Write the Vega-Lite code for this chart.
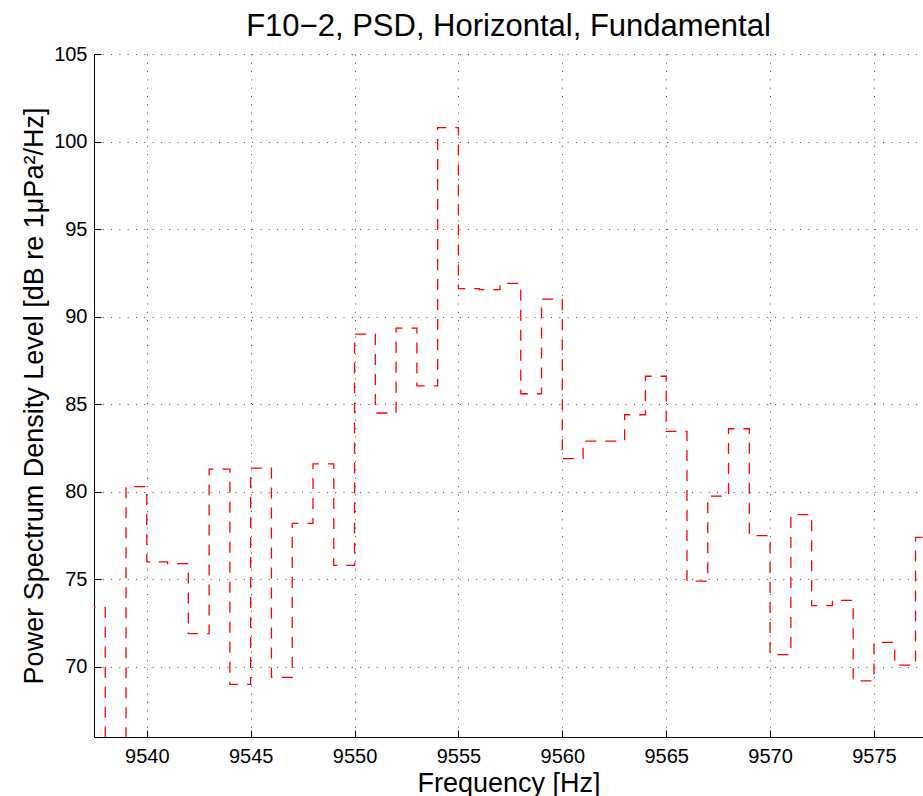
{
  "$schema": "https://vega.github.io/schema/vega-lite/v6.json",
  "width": 829,
  "height": 683,
  "autosize": {"type": "none"},
  "padding": {"left": 94, "top": 54, "right": 0, "bottom": 59},
  "background": "white",
  "config": {
    "font": "Liberation Sans",
    "view": {"stroke": null},
    "axis": {
      "domainColor": "#000",
      "domainWidth": 1,
      "tickColor": "#000",
      "tickSize": -7,
      "labelColor": "#000",
      "labelFont": "Liberation Sans",
      "labelFontSize": 20,
      "titleFont": "Liberation Sans",
      "titleFontSize": 27,
      "titleFontWeight": "normal",
      "titleColor": "#000",
      "grid": true,
      "gridColor": "#000",
      "gridOpacity": 0.7,
      "gridDash": [1, 7.3],
      "gridWidth": 1
    }
  },
  "title": {
    "text": "F10\u22122, PSD, Horizontal, Fundamental",
    "font": "Liberation Sans",
    "fontSize": 31,
    "fontWeight": "normal",
    "color": "#000",
    "offset": 1
  },
  "data": {
    "values": [
      {"f": 9537, "psd": 73.4},
      {"f": 9538, "psd": 60},
      {"f": 9539, "psd": 80.3},
      {"f": 9540, "psd": 76.0},
      {"f": 9541, "psd": 75.9},
      {"f": 9542, "psd": 71.9},
      {"f": 9543, "psd": 81.3},
      {"f": 9544, "psd": 69.0},
      {"f": 9545, "psd": 81.35},
      {"f": 9546, "psd": 69.4},
      {"f": 9547, "psd": 78.2},
      {"f": 9548, "psd": 81.6},
      {"f": 9549, "psd": 75.8},
      {"f": 9550, "psd": 89.0},
      {"f": 9551, "psd": 84.5},
      {"f": 9552, "psd": 89.35},
      {"f": 9553, "psd": 86.05},
      {"f": 9554, "psd": 100.8},
      {"f": 9555, "psd": 91.6},
      {"f": 9556, "psd": 91.55},
      {"f": 9557, "psd": 91.9},
      {"f": 9558, "psd": 85.6},
      {"f": 9559, "psd": 91.0},
      {"f": 9560, "psd": 81.9},
      {"f": 9561, "psd": 82.9},
      {"f": 9562, "psd": 82.9},
      {"f": 9563, "psd": 84.4},
      {"f": 9564, "psd": 86.6},
      {"f": 9565, "psd": 83.45},
      {"f": 9566, "psd": 74.9},
      {"f": 9567, "psd": 79.75},
      {"f": 9568, "psd": 83.6},
      {"f": 9569, "psd": 77.5},
      {"f": 9570, "psd": 70.7},
      {"f": 9571, "psd": 78.7},
      {"f": 9572, "psd": 73.5},
      {"f": 9573, "psd": 73.8},
      {"f": 9574, "psd": 69.2},
      {"f": 9575, "psd": 71.4},
      {"f": 9576, "psd": 70.1},
      {"f": 9577, "psd": 77.4},
      {"f": 9578, "psd": 77.4}
    ]
  },
  "mark": {
    "type": "line",
    "interpolate": "step-after",
    "color": "#ff0000",
    "strokeWidth": 1.3,
    "strokeDash": [11, 9],
    "clip": true
  },
  "encoding": {
    "x": {
      "field": "f",
      "type": "quantitative",
      "scale": {"domain": [9537.46, 9577.36], "nice": false, "zero": false},
      "axis": {
        "title": "Frequency [Hz]",
        "values": [9540, 9545, 9550, 9555, 9560, 9565, 9570, 9575],
        "format": "d",
        "labelPadding": 16,
        "titlePadding": 4
      }
    },
    "y": {
      "field": "psd",
      "type": "quantitative",
      "scale": {"domain": [66, 105], "nice": false, "zero": false},
      "axis": {
        "title": "Power Spectrum Density Level [dB re 1\u03bcPa\u00b2/Hz]",
        "values": [70, 75, 80, 85, 90, 95, 100, 105],
        "format": "d",
        "labelPadding": 14,
        "titlePadding": 5
      }
    }
  }
}
